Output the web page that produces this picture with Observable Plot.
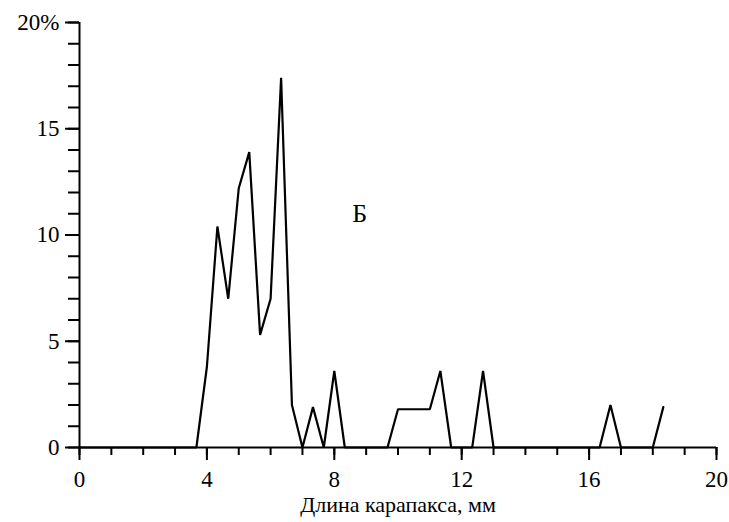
<!DOCTYPE html>
<html>
<head>
<meta charset="utf-8">
<script src="https://cdn.jsdelivr.net/npm/d3@7"></script>
<script src="https://cdn.jsdelivr.net/npm/@observablehq/plot@0.6"></script>
<style>
  html, body { margin: 0; padding: 0; background: #fff; }
  #chart svg { display: block; }
  #chart svg text { font-family: "Liberation Serif", "Times New Roman", serif !important; }
</style>
</head>
<body>
<div id="chart"></div>
<script>
// Carapace length (mm) and share of individuals (%) at each size class
const lengthMm = [0, 3.67, 4, 4.33, 4.67, 5, 5.33, 5.67, 6, 6.33, 6.67, 7, 7.33, 7.67, 8, 8.33,
                  9.67, 10, 10.33, 10.67, 11, 11.33, 11.67, 12.33, 12.67, 13,
                  16.33, 16.67, 17, 18, 18.33];
const sharePct = [0, 0, 3.8, 10.4, 7.0, 12.2, 13.9, 5.3, 7.0, 17.4, 2.0, 0, 1.9, 0, 3.6, 0,
                  0, 1.8, 1.8, 1.8, 1.8, 3.6, 0, 0, 3.6, 0,
                  0, 2.0, 0, 0, 1.9];

const xMajorTicks = [0, 4, 8, 12, 16, 20];
const xMinorTicks = d3.range(0, 21, 1);
const yMajorTicks = [0, 5, 10, 15, 20];
const yMinorTicks = d3.range(0, 21, 1);
const xTitle = "Длина карапакса, мм";
const panelLabel = [{x: 8.8, y: 11.0, text: "Б"}];

const data = lengthMm.map((x, i) => ({x, y: sharePct[i]}));

const font = "Liberation Serif";

const chart = Plot.plot({
  width: 729,
  height: 522,
  marginLeft: 79,
  marginRight: 13,
  marginTop: 22,
  marginBottom: 75,
  style: {fontFamily: font, fontSize: "23px", color: "#000", background: "#fff"},
  x: {domain: [0, 20]},
  y: {domain: [0, 20]},
  marks: [
    // minor ticks
    Plot.axisX({ticks: xMinorTicks, tickSize: 8, tickFormat: () => "", label: null, strokeWidth: 2}),
    Plot.axisY({ticks: yMinorTicks, tickSize: 11, tickFormat: () => "", label: null, strokeWidth: 2}),
    // major ticks with labels
    Plot.axisX({ticks: xMajorTicks, tickSize: 13, tickPadding: 10, label: null, strokeWidth: 2,
                fontSize: 23, fontFamily: font}),
    Plot.axisY({ticks: yMajorTicks, tickSize: 14, tickPadding: 6, label: null, strokeWidth: 2,
                fontSize: 23, fontFamily: font, tickFormat: d => d === 20 ? "20%" : String(d)}),
    // axis lines
    Plot.ruleY([0], {strokeWidth: 2}),
    Plot.ruleX([0], {strokeWidth: 2}),
    // distribution line
    Plot.line(data, {x: "x", y: "y", stroke: "#000", strokeWidth: 2.2, strokeLinejoin: "miter"}),
    // panel letter
    Plot.text(panelLabel, {x: "x", y: "y", text: "text", fontSize: 26, fontFamily: font, fill: "#000"}),
    // axis title
    Plot.text([xTitle], {frameAnchor: "bottom", dy: 64, fontSize: 22, fontFamily: font, fill: "#000"})
  ]
});

document.getElementById("chart").appendChild(chart);
</script>
</body>
</html>
